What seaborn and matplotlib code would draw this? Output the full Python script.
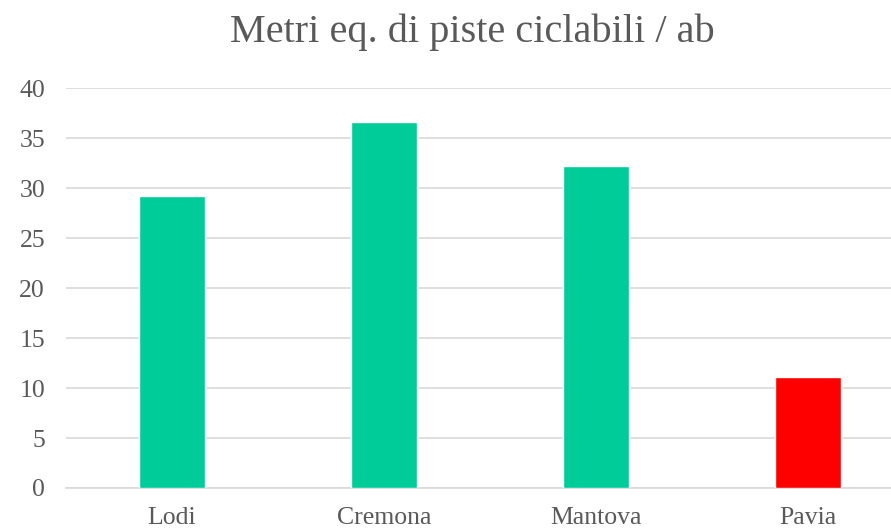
import matplotlib
matplotlib.use("Agg")
import matplotlib.pyplot as plt
import seaborn as sns
import pandas as pd

# Data
cities = ["Lodi", "Cremona", "Mantova", "Pavia"]
metres_per_inhabitant = [29.2, 36.6, 32.2, 11.1]
bar_colors = ["#00CC99", "#00CC99", "#00CC99", "#FF0000"]
y_ticks = [0, 5, 10, 15, 20, 25, 30, 35, 40]

df = pd.DataFrame({"city": cities, "value": metres_per_inhabitant})

sns.set_style("white")
plt.rcParams["font.family"] = ["Liberation Serif", "DejaVu Serif"]

text_color = "#595959"

fig = plt.figure(figsize=(8.91, 5.31), dpi=100)
ax = fig.add_axes([0.074, 0.081, 0.952, 0.753])

sns.barplot(
    data=df,
    x="city",
    y="value",
    hue="city",
    palette=bar_colors,
    saturation=1,
    legend=False,
    width=0.31,
    ax=ax,
    zorder=3,
)

ax.set_ylim(0, 40)
ax.set_yticks(y_ticks)
ax.set_xlim(-0.5, 3.5)
ax.grid(axis="y", color="#D9D9D9", linewidth=1.2, zorder=0)
ax.set_axisbelow(True)
for side in ["top", "right", "left"]:
    ax.spines[side].set_visible(False)
ax.spines["bottom"].set_color("#D9D9D9")
ax.spines["bottom"].set_linewidth(1.2)

ax.tick_params(axis="both", length=0, labelsize=18.5, labelcolor=text_color)
ax.tick_params(axis="y", pad=15)
ax.tick_params(axis="x", pad=14)
ax.set_xlabel("")
ax.set_ylabel("")

# title is centred over the (partly cropped) plot area, not the figure
fig.text(0.53, 0.975, "Metri eq. di piste ciclabili / ab", fontsize=29,
         color=text_color, ha="center", va="top")

fig.savefig("out.png", dpi=100)
